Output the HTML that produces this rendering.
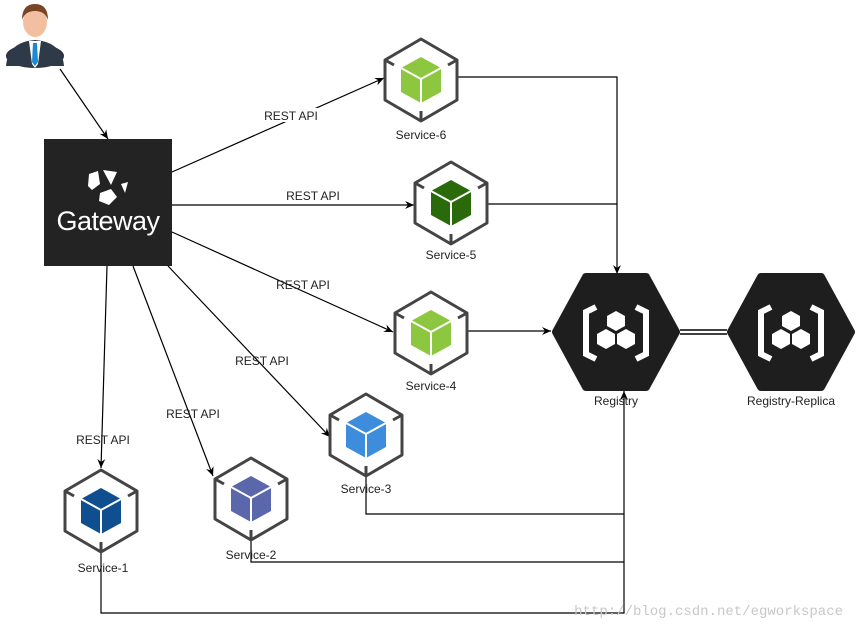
<!DOCTYPE html>
<html><head><meta charset="utf-8"><style>
html,body{margin:0;padding:0;background:#fff;}
svg{display:block;font-family:"Liberation Sans",sans-serif;}
</style></head><body>
<svg width="856" height="630" viewBox="0 0 856 630" xmlns="http://www.w3.org/2000/svg">
<defs>
<marker id="a" markerWidth="10" markerHeight="10" refX="9" refY="5" orient="auto" markerUnits="userSpaceOnUse">
<path d="M0,1 L9,5 L0,9 L3,5 Z" fill="#000"/></marker>
<g id="hex">
<polygon points="0,-41 36,-20 36,20 0,41 -36,20 -36,-20" fill="#fff" stroke="#444" stroke-width="3" stroke-linejoin="round"/>
<line x1="-36" y1="-20" x2="-27" y2="-15" stroke="#444" stroke-width="3"/>
<line x1="36" y1="-20" x2="27" y2="-15" stroke="#444" stroke-width="3"/>
<line x1="0" y1="41" x2="0" y2="31" stroke="#444" stroke-width="3"/>
</g>
<g id="cube">
<polygon points="0,-23 20,-12 20,12 0,23 -20,12 -20,-12"/>
<polyline points="-20,-12 0,-1 20,-12" fill="none" stroke="#fff" stroke-width="2"/>
<line x1="0" y1="-1" x2="0" y2="23" stroke="#fff" stroke-width="2"/>
</g>
<g id="reg">
<polygon points="-60,0 -30,-55 30,-55 60,0 30,55 -30,55" fill="#1e1e1e" stroke="#1e1e1e" stroke-width="8" stroke-linejoin="round"/>
<path d="M-20,-25 L-30,-20 L-30,22 L-20,27" fill="none" stroke="#fff" stroke-width="6"/>
<path d="M20,-25 L30,-20 L30,22 L20,27" fill="none" stroke="#fff" stroke-width="6"/>
<polygon points="0,-21 9,-16 9,-6 0,-1 -9,-6 -9,-16" fill="#fff"/>
<polygon points="-10,-3 -1,2 -1,12 -10,17 -19,12 -19,2" fill="#fff"/>
<polygon points="10,-3 19,2 19,12 10,17 1,12 1,2" fill="#fff"/>
</g>
</defs>

<!-- person -->
<g>
<ellipse cx="35" cy="56" rx="29" ry="12" fill="#2b3440"/>
<path d="M6,66 Q8,42 35,40 Q62,42 64,66 Z" fill="#2f3a48"/>
<polygon points="29,41 41,41 38,64 35,68 32,64" fill="#fff"/>
<polygon points="33,43 37,43 38,62 35,66 32,62" fill="#1a8ad1"/>
<ellipse cx="35" cy="22" rx="12" ry="15" fill="#f2c0a0"/>
<path d="M22,20 Q22,4 35,4 Q48,4 48,20 Q45,11 35,11 Q25,11 22,20 Z" fill="#7a4426"/>
</g>

<!-- gateway -->
<rect x="44" y="139" width="128" height="127" fill="#232323"/>
<text x="108" y="230" font-size="27" fill="#fff" text-anchor="middle" letter-spacing="-0.5">Gateway</text>
<polygon points="89,174 98,171 100,184 92,190 88,186" fill="#fff"/>
<polygon points="103,170 117,172 111,185" fill="#fff"/>
<polygon points="100,193 111,189 117,197 109,205 99,201" fill="#fff"/>
<polygon points="121,184 128,182 125,193" fill="#fff"/>

<!-- connectors -->
<g stroke="#000" stroke-width="1.2" fill="none">
<line x1="60" y1="69" x2="108" y2="139" marker-end="url(#a)"/>
<line x1="172" y1="172" x2="384" y2="78" marker-end="url(#a)"/>
<line x1="172" y1="205" x2="414" y2="205" marker-end="url(#a)"/>
<line x1="172" y1="232" x2="393" y2="332" marker-end="url(#a)"/>
<line x1="168" y1="266" x2="330" y2="437" marker-end="url(#a)"/>
<line x1="133" y1="266" x2="213" y2="476" marker-end="url(#a)"/>
<line x1="107" y1="266" x2="101" y2="468" marker-end="url(#a)"/>
<polyline points="458,77 617,77 617,274" marker-end="url(#a)"/>
<line x1="488" y1="204" x2="617" y2="204"/>
<line x1="468" y1="331" x2="551" y2="331" marker-end="url(#a)"/>
<polyline points="366,476 366,514 624,514 624,391" marker-end="url(#a)"/>
<polyline points="251,540 251,562 624,562"/>
<polyline points="101,552 101,613 624,613 624,514"/>
<line x1="680" y1="330" x2="727" y2="330" stroke-width="1.5"/>
<line x1="680" y1="334" x2="727" y2="334" stroke-width="1.5"/>
</g>

<g font-size="12" fill="#222" text-anchor="middle">
<rect x="262" y="108" width="58" height="14" fill="#fff"/>
<text x="291" y="120">REST API</text>
<text x="313" y="200">REST API</text>
<text x="303" y="289">REST API</text>
<text x="262" y="365">REST API</text>
<text x="193" y="418">REST API</text>
<text x="103" y="444">REST API</text>
</g>

<!-- services -->
<g transform="translate(421,80)"><use href="#hex"/><use href="#cube" fill="#8dc63f"/></g>
<g transform="translate(451,203)"><use href="#hex"/><use href="#cube" fill="#2a6a0a"/></g>
<g transform="translate(431,333)"><use href="#hex"/><use href="#cube" fill="#8dc63f"/></g>
<g transform="translate(366,435)"><use href="#hex"/><use href="#cube" fill="#3d8ddc"/></g>
<g transform="translate(251,499)"><use href="#hex"/><use href="#cube" fill="#5b67ab"/></g>
<g transform="translate(101,511)"><use href="#hex"/><use href="#cube" fill="#0f4f8f"/></g>

<g font-size="12" fill="#222" text-anchor="middle">
<text x="421" y="139">Service-6</text>
<text x="451" y="259">Service-5</text>
<text x="431" y="390">Service-4</text>
<text x="366" y="493">Service-3</text>
<text x="251" y="559">Service-2</text>
<text x="103" y="572">Service-1</text>
<text x="616" y="405">Registry</text>
<text x="791" y="405">Registry-Replica</text>
</g>

<g transform="translate(616,332)"><use href="#reg"/></g>
<g transform="translate(791,332)"><use href="#reg"/></g>

<text x="843" y="615" font-family="Liberation Mono, monospace" font-size="14" fill="#c8c8c8" text-anchor="end">http://blog.csdn.net/egworkspace</text>
</svg>
</body></html>
